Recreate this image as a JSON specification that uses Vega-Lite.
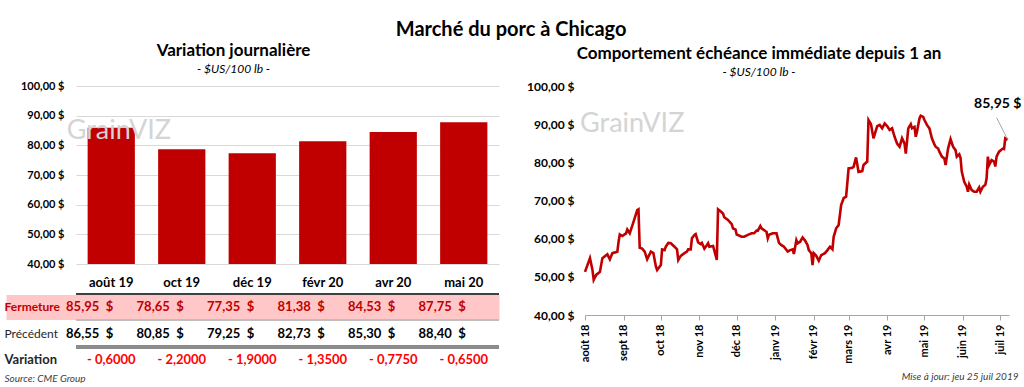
{
  "$schema": "https://vega.github.io/schema/vega-lite/v6.json",
  "padding": {"left": 0, "top": 20, "right": 0, "bottom": 0},
  "background": "white",
  "title": {"text": "Marché du porc à Chicago", "fontSize": 20, "font": "Lato", "fontWeight": "bold", "color": "#000000", "anchor": "middle", "offset": 2},
  "config": {
    "font": "Lato",
    "view": {"stroke": null},
    "locale": {
      "number": {"decimal": ",", "thousands": " ", "grouping": [3], "currency": ["", " $"], "minus": "- "},
      "time": {"dateTime": "%A %e %B %Y à %X", "date": "%d/%m/%Y", "time": "%H:%M:%S", "periods": ["AM", "PM"],
        "days": ["dimanche", "lundi", "mardi", "mercredi", "jeudi", "vendredi", "samedi"],
        "shortDays": ["dim", "lun", "mar", "mer", "jeu", "ven", "sam"],
        "months": ["janvier", "février", "mars", "avril", "mai", "juin", "juillet", "août", "septembre", "octobre", "novembre", "décembre"],
        "shortMonths": ["janv", "févr", "mars", "avr", "mai", "juin", "juil", "août", "sept", "oct", "nov", "déc"]}
    },
    "title": {"font": "Lato", "color": "#000000", "subtitleFont": "Lato", "subtitleColor": "#000000"}
  },
  "datasets": {
    "contrats": [
      {"contrat": "août 19", "Fermeture": 85.95, "Précédent": 86.55, "Variation": -0.6},
      {"contrat": "oct 19", "Fermeture": 78.65, "Précédent": 80.85, "Variation": -2.2},
      {"contrat": "déc 19", "Fermeture": 77.35, "Précédent": 79.25, "Variation": -1.9},
      {"contrat": "févr 20", "Fermeture": 81.38, "Précédent": 82.73, "Variation": -1.35},
      {"contrat": "avr 20", "Fermeture": 84.53, "Précédent": 85.30, "Variation": -0.775},
      {"contrat": "mai 20", "Fermeture": 87.75, "Précédent": 88.40, "Variation": -0.65}
    ],
    "porc": [
      {"date": "2018-08-01", "prix": 51.3}, {"date": "2018-08-05", "prix": 54.9}, {"date": "2018-08-07", "prix": 51.8},
      {"date": "2018-08-08", "prix": 49.2}, {"date": "2018-08-10", "prix": 50.5}, {"date": "2018-08-13", "prix": 51.3},
      {"date": "2018-08-15", "prix": 54.9}, {"date": "2018-08-19", "prix": 55.9}, {"date": "2018-08-21", "prix": 54.6},
      {"date": "2018-08-23", "prix": 56.2}, {"date": "2018-08-27", "prix": 56.6}, {"date": "2018-08-28", "prix": 59.2},
      {"date": "2018-08-29", "prix": 61.1}, {"date": "2018-08-31", "prix": 60.7}, {"date": "2018-09-03", "prix": 61.4},
      {"date": "2018-09-04", "prix": 62.4}, {"date": "2018-09-06", "prix": 61.4}, {"date": "2018-09-09", "prix": 64.4},
      {"date": "2018-09-12", "prix": 67.5}, {"date": "2018-09-13", "prix": 67.7}, {"date": "2018-09-14", "prix": 57.6},
      {"date": "2018-09-16", "prix": 57.4}, {"date": "2018-09-18", "prix": 56.6}, {"date": "2018-09-20", "prix": 54.6},
      {"date": "2018-09-21", "prix": 55.3}, {"date": "2018-09-23", "prix": 56.6}, {"date": "2018-09-25", "prix": 56.2},
      {"date": "2018-09-27", "prix": 52.7}, {"date": "2018-09-28", "prix": 51.8}, {"date": "2018-10-01", "prix": 53.1},
      {"date": "2018-10-02", "prix": 57.2}, {"date": "2018-10-04", "prix": 57.0}, {"date": "2018-10-05", "prix": 57.9},
      {"date": "2018-10-07", "prix": 58.9}, {"date": "2018-10-09", "prix": 58.8}, {"date": "2018-10-12", "prix": 57.9},
      {"date": "2018-10-14", "prix": 57.2}, {"date": "2018-10-15", "prix": 54.4}, {"date": "2018-10-17", "prix": 55.5},
      {"date": "2018-10-20", "prix": 56.2}, {"date": "2018-10-22", "prix": 56.6}, {"date": "2018-10-23", "prix": 57.2},
      {"date": "2018-10-25", "prix": 57.2}, {"date": "2018-10-26", "prix": 60.1}, {"date": "2018-10-28", "prix": 61.0},
      {"date": "2018-10-29", "prix": 61.2}, {"date": "2018-10-31", "prix": 59.0}, {"date": "2018-11-02", "prix": 58.6},
      {"date": "2018-11-03", "prix": 58.9}, {"date": "2018-11-05", "prix": 57.4}, {"date": "2018-11-07", "prix": 58.3},
      {"date": "2018-11-08", "prix": 58.8}, {"date": "2018-11-09", "prix": 57.9}, {"date": "2018-11-12", "prix": 58.1},
      {"date": "2018-11-14", "prix": 55.7}, {"date": "2018-11-15", "prix": 54.4}, {"date": "2018-11-16", "prix": 67.7},
      {"date": "2018-11-18", "prix": 67.2}, {"date": "2018-11-20", "prix": 66.6}, {"date": "2018-11-21", "prix": 65.6},
      {"date": "2018-11-24", "prix": 64.9}, {"date": "2018-11-27", "prix": 63.8}, {"date": "2018-11-28", "prix": 62.7},
      {"date": "2018-11-30", "prix": 62.4}, {"date": "2018-12-01", "prix": 61.1}, {"date": "2018-12-05", "prix": 60.5},
      {"date": "2018-12-07", "prix": 60.5}, {"date": "2018-12-10", "prix": 61.0}, {"date": "2018-12-13", "prix": 61.4},
      {"date": "2018-12-15", "prix": 61.4}, {"date": "2018-12-17", "prix": 62.1}, {"date": "2018-12-18", "prix": 62.1},
      {"date": "2018-12-20", "prix": 63.3}, {"date": "2018-12-21", "prix": 62.7}, {"date": "2018-12-24", "prix": 62.0},
      {"date": "2018-12-25", "prix": 61.8}, {"date": "2018-12-26", "prix": 60.1}, {"date": "2018-12-27", "prix": 61.0},
      {"date": "2018-12-30", "prix": 61.4}, {"date": "2019-01-02", "prix": 61.4}, {"date": "2019-01-04", "prix": 58.9},
      {"date": "2019-01-06", "prix": 58.3}, {"date": "2019-01-08", "prix": 57.9}, {"date": "2019-01-11", "prix": 56.6},
      {"date": "2019-01-13", "prix": 57.0}, {"date": "2019-01-15", "prix": 57.2}, {"date": "2019-01-16", "prix": 56.0},
      {"date": "2019-01-18", "prix": 59.6}, {"date": "2019-01-19", "prix": 58.8}, {"date": "2019-01-21", "prix": 59.2},
      {"date": "2019-01-23", "prix": 60.3}, {"date": "2019-01-25", "prix": 59.5}, {"date": "2019-01-27", "prix": 58.3},
      {"date": "2019-01-28", "prix": 57.0}, {"date": "2019-01-30", "prix": 56.2}, {"date": "2019-01-31", "prix": 53.1},
      {"date": "2019-02-01", "prix": 56.2}, {"date": "2019-02-03", "prix": 55.5}, {"date": "2019-02-05", "prix": 54.2},
      {"date": "2019-02-07", "prix": 55.7}, {"date": "2019-02-10", "prix": 56.2}, {"date": "2019-02-12", "prix": 57.0},
      {"date": "2019-02-14", "prix": 57.9}, {"date": "2019-02-16", "prix": 57.2}, {"date": "2019-02-17", "prix": 60.5},
      {"date": "2019-02-19", "prix": 62.7}, {"date": "2019-02-21", "prix": 63.6}, {"date": "2019-02-23", "prix": 68.8},
      {"date": "2019-02-25", "prix": 70.6}, {"date": "2019-02-27", "prix": 71.0}, {"date": "2019-03-01", "prix": 78.4},
      {"date": "2019-03-04", "prix": 78.6}, {"date": "2019-03-05", "prix": 78.8}, {"date": "2019-03-07", "prix": 81.3},
      {"date": "2019-03-09", "prix": 77.5}, {"date": "2019-03-12", "prix": 77.7}, {"date": "2019-03-13", "prix": 79.3},
      {"date": "2019-03-16", "prix": 80.2}, {"date": "2019-03-17", "prix": 91.1}, {"date": "2019-03-19", "prix": 90.0},
      {"date": "2019-03-21", "prix": 86.3}, {"date": "2019-03-24", "prix": 89.5}, {"date": "2019-03-26", "prix": 89.8},
      {"date": "2019-03-28", "prix": 88.9}, {"date": "2019-03-30", "prix": 90.2}, {"date": "2019-04-01", "prix": 89.5},
      {"date": "2019-04-03", "prix": 88.5}, {"date": "2019-04-05", "prix": 88.9}, {"date": "2019-04-07", "prix": 86.7},
      {"date": "2019-04-09", "prix": 84.9}, {"date": "2019-04-11", "prix": 84.1}, {"date": "2019-04-13", "prix": 86.3},
      {"date": "2019-04-15", "prix": 84.9}, {"date": "2019-04-16", "prix": 82.3}, {"date": "2019-04-18", "prix": 88.9},
      {"date": "2019-04-20", "prix": 90.0}, {"date": "2019-04-21", "prix": 88.9}, {"date": "2019-04-23", "prix": 89.3},
      {"date": "2019-04-24", "prix": 86.7}, {"date": "2019-04-25", "prix": 88.0}, {"date": "2019-04-27", "prix": 91.5},
      {"date": "2019-04-28", "prix": 92.2}, {"date": "2019-04-30", "prix": 91.9}, {"date": "2019-05-01", "prix": 91.1},
      {"date": "2019-05-03", "prix": 89.8}, {"date": "2019-05-05", "prix": 88.9}, {"date": "2019-05-07", "prix": 86.3},
      {"date": "2019-05-09", "prix": 84.7}, {"date": "2019-05-10", "prix": 84.1}, {"date": "2019-05-12", "prix": 83.6},
      {"date": "2019-05-13", "prix": 82.8}, {"date": "2019-05-15", "prix": 81.5}, {"date": "2019-05-17", "prix": 81.0},
      {"date": "2019-05-18", "prix": 79.3}, {"date": "2019-05-20", "prix": 83.6}, {"date": "2019-05-22", "prix": 86.1},
      {"date": "2019-05-24", "prix": 84.1}, {"date": "2019-05-26", "prix": 83.2}, {"date": "2019-05-27", "prix": 81.5},
      {"date": "2019-05-29", "prix": 82.1}, {"date": "2019-05-30", "prix": 81.2}, {"date": "2019-05-31", "prix": 77.6},
      {"date": "2019-06-02", "prix": 74.9}, {"date": "2019-06-04", "prix": 73.6}, {"date": "2019-06-05", "prix": 72.3},
      {"date": "2019-06-06", "prix": 74.2}, {"date": "2019-06-08", "prix": 72.7}, {"date": "2019-06-10", "prix": 72.3},
      {"date": "2019-06-12", "prix": 72.3}, {"date": "2019-06-14", "prix": 73.4}, {"date": "2019-06-15", "prix": 72.3},
      {"date": "2019-06-17", "prix": 73.6}, {"date": "2019-06-19", "prix": 74.1}, {"date": "2019-06-20", "prix": 75.8},
      {"date": "2019-06-21", "prix": 81.5}, {"date": "2019-06-22", "prix": 79.3}, {"date": "2019-06-24", "prix": 80.6},
      {"date": "2019-06-26", "prix": 80.2}, {"date": "2019-06-27", "prix": 78.9}, {"date": "2019-06-28", "prix": 81.5},
      {"date": "2019-06-30", "prix": 82.8}, {"date": "2019-07-03", "prix": 83.6}, {"date": "2019-07-04", "prix": 83.5},
      {"date": "2019-07-05", "prix": 86.3}, {"date": "2019-07-07", "prix": 85.95}
    ]
  },
  "spacing": 25,
  "hconcat": [
    {
      "spacing": 0,
      "vconcat": [
        {
          "width": 423,
          "height": 178,
          "title": {"text": "Variation journalière", "subtitle": "- $US/100 lb -", "fontSize": 17, "fontWeight": "bold", "subtitleFontSize": 12, "subtitleFontStyle": "italic", "subtitlePadding": 4, "anchor": "middle", "dx": -54, "offset": 4},
          "data": {"name": "contrats"},
          "layer": [
            {
              "mark": {"type": "bar", "color": "#c00000"},
              "encoding": {
                "x": {"field": "contrat", "type": "nominal", "sort": null,
                  "scale": {"paddingInner": 0.33, "paddingOuter": 0.165},
                  "axis": {"title": null, "orient": "bottom", "domain": false, "ticks": false, "labelAngle": 0, "labelFontSize": 13, "labelFontWeight": "bold", "labelColor": "#000000", "labelPadding": 12}},
                "y": {"field": "Fermeture", "type": "quantitative", "scale": {"domain": [40, 100], "zero": false, "nice": false},
                  "axis": {"title": null, "values": [40, 50, 60, 70, 80, 90, 100], "format": "$.2f", "labelFontWeight": "bold", "labelFontSize": 11, "labelColor": "#000000", "domain": false, "ticks": false, "labelPadding": 12, "gridColor": "#d9d9d9", "labelOverlap": false}},
                "y2": {"datum": 40}
              }
            },
            {
              "data": {"values": [{}]},
              "mark": {"type": "text", "fontSize": 27, "color": "#d4d4d4", "align": "left", "baseline": "alphabetic", "dx": -21},
              "encoding": {
                "x": {"datum": "août 19", "bandPosition": 0},
                "y": {"datum": 82, "type": "quantitative", "scale": {"domain": [40, 100], "zero": false, "nice": false},
                  "axis": {"title": null, "values": [40, 50, 60, 70, 80, 90, 100], "format": "$.2f", "labelFontWeight": "bold", "labelFontSize": 11, "labelColor": "#000000", "domain": false, "ticks": false, "labelPadding": 12, "gridColor": "#d9d9d9", "labelOverlap": false}},
                "text": {"value": "GrainVIZ"}
              }
            }
          ]
        },
        {
          "width": 423,
          "height": 79,
          "data": {"name": "contrats"},
          "transform": [{"fold": ["Fermeture", "Précédent", "Variation"], "as": ["ligne", "valeur"]}],
          "encoding": {
            "y": {"field": "ligne", "type": "nominal", "sort": ["Fermeture", "Précédent", "Variation"],
              "scale": {"domain": ["Fermeture", "Précédent", "Variation"], "paddingInner": 0, "paddingOuter": 0},
              "axis": {"title": null, "domain": false, "labelAlign": "left", "labelBaseline": "middle", "labelPadding": 14.5,
                "ticks": true, "tickSize": 57.5, "tickColor": "#ffc7c7", "tickCap": "square",
                "tickWidth": {"condition": {"test": "datum.value === 'Fermeture'", "value": 25}, "value": 0},
                "grid": true, "gridColor": "#ffc7c7",
                "gridWidth": {"condition": {"test": "datum.value === 'Fermeture'", "value": 25}, "value": 0},
                "labelFontSize": {"condition": {"test": "datum.value === 'Variation'", "value": 13}, "value": 12},
                "labelColor": {"condition": {"test": "datum.value === 'Fermeture'", "value": "#c00000"}, "value": "#262626"},
                "labelFontWeight": {"condition": {"test": "datum.value === 'Précédent'", "value": "normal"}, "value": "bold"}}
            }
          },
          "layer": [
            {
              "transform": [{"filter": "datum.ligne !== 'Variation'"}],
              "mark": {"type": "text", "align": "right", "baseline": "middle", "dx": -12, "fontSize": 13, "fontWeight": "bold"},
              "encoding": {
                "x": {"field": "contrat", "type": "nominal", "sort": null, "bandPosition": 1,
                  "scale": {"paddingInner": 0.33, "paddingOuter": 0.165},
                  "axis": {"orient": "bottom", "labels": false, "ticks": false, "domain": false, "title": "Source: CME Group", "titleAnchor": "start", "titleAlign": "left", "titleX": -72, "titleFontSize": 10, "titleFontStyle": "italic", "titleFontWeight": "normal", "titleColor": "#404040", "titlePadding": 0}},
                "text": {"field": "valeur", "type": "quantitative", "format": ".2f"},
                "color": {"condition": {"test": "datum.ligne === 'Fermeture'", "value": "#c00000"}, "value": "#000000"}
              }
            },
            {
              "transform": [{"filter": "datum.ligne !== 'Variation'"}],
              "mark": {"type": "text", "align": "right", "baseline": "middle", "dx": 2, "fontSize": 13, "fontWeight": "bold"},
              "encoding": {
                "x": {"field": "contrat", "type": "nominal", "sort": null, "bandPosition": 1},
                "text": {"value": "$"},
                "color": {"condition": {"test": "datum.ligne === 'Fermeture'", "value": "#c00000"}, "value": "#000000"}
              }
            },
            {
              "transform": [{"filter": "datum.ligne === 'Variation'"}],
              "mark": {"type": "text", "align": "center", "baseline": "middle", "fontSize": 13, "fontWeight": "bold", "color": "#ff0000"},
              "encoding": {
                "x": {"field": "contrat", "type": "nominal", "sort": null},
                "text": {"field": "valeur", "type": "quantitative", "format": ".4f"}
              }
            },
            {
              "mark": {"type": "rule", "color": "#404040", "strokeWidth": 1.5},
              "encoding": {"y": {"datum": "Fermeture", "bandPosition": 0}}
            },
            {
              "mark": {"type": "rule", "color": "#bfbfbf", "strokeWidth": 1},
              "encoding": {"y": {"datum": "Précédent", "bandPosition": 0}}
            },
            {
              "mark": {"type": "rule", "color": "#8c8c8c", "strokeWidth": 3},
              "encoding": {"y": {"datum": "Variation", "bandPosition": 0}}
            }
          ]
        }
      ]
    },
    {
      "vconcat": [
        {
          "width": 424,
          "height": 229,
          "title": {"text": "Comportement échéance immédiate depuis 1 an", "subtitle": "- $US/100 lb -", "fontSize": 17, "fontWeight": "bold", "subtitleFontSize": 12, "subtitleFontStyle": "italic", "subtitlePadding": 4, "anchor": "middle", "dx": -38, "offset": 1},
          "data": {"name": "porc"},
          "layer": [
            {
              "data": {"values": [{}]},
              "mark": {"type": "text", "fontSize": 27, "color": "#d4d4d4", "align": "left", "baseline": "alphabetic"},
              "encoding": {
                "x": {"datum": {"year": 2018, "month": 7, "date": 28}, "type": "temporal",
                  "scale": {"domain": [{"year": 2018, "month": 8, "date": 1}, {"year": 2019, "month": 7, "date": 8}]}},
                "y": {"datum": 88, "type": "quantitative", "scale": {"domain": [40, 100], "zero": false, "nice": false},
                  "axis": {"title": null, "values": [40, 50, 60, 70, 80, 90, 100], "format": "$.2f", "labelFontWeight": "bold", "labelFontSize": 12, "labelColor": "#000000", "domain": false, "ticks": false, "labelPadding": 11, "gridColor": "#d9d9d9", "labelOverlap": false}},
                "text": {"value": "GrainVIZ"}
              }
            },
            {
              "mark": {"type": "line", "color": "#c00000", "strokeWidth": 2.6},
              "encoding": {
                "x": {"field": "date", "type": "temporal",
                  "scale": {"domain": [{"year": 2018, "month": 8, "date": 1}, {"year": 2019, "month": 7, "date": 8}]},
                  "axis": {"title": "Mise à jour: jeu 25 juil 2019", "titleAnchor": "end", "titleAlign": "right", "titleX": 433, "titleFontSize": 10, "titleFontStyle": "italic", "titleFontWeight": "normal", "titleColor": "#404040", "titlePadding": 8,
                    "format": "%b %y", "labelAngle": -90, "labelFontWeight": "bold", "labelFontSize": 11, "labelColor": "#000000", "labelPadding": 4,
                    "tickCount": {"interval": "month", "step": 1}, "tickSize": 5, "tickColor": "#a6a6a6", "domainColor": "#a6a6a6", "grid": false, "labelFlush": false, "labelOverlap": false}},
                "y": {"field": "prix", "type": "quantitative", "scale": {"domain": [40, 100], "zero": false, "nice": false},
                  "axis": {"title": null, "values": [40, 50, 60, 70, 80, 90, 100], "format": "$.2f", "labelFontWeight": "bold", "labelFontSize": 12, "labelColor": "#000000", "domain": false, "ticks": false, "labelPadding": 11, "gridColor": "#d9d9d9", "labelOverlap": false}}
              }
            },
            {
              "transform": [{"filter": "datum.prix === 85.95"}],
              "mark": {"type": "rule", "color": "#a6a6a6", "strokeWidth": 1},
              "encoding": {
                "x": {"field": "date", "type": "temporal"},
                "y": {"field": "prix", "type": "quantitative", "scale": {"domain": [40, 100], "zero": false, "nice": false},
                  "axis": {"title": null, "values": [40, 50, 60, 70, 80, 90, 100], "format": "$.2f", "labelFontWeight": "bold", "labelFontSize": 12, "labelColor": "#000000", "domain": false, "ticks": false, "labelPadding": 11, "gridColor": "#d9d9d9", "labelOverlap": false}},
                "x2": {"datum": {"year": 2019, "month": 6, "date": 28}},
                "y2": {"datum": 91.7}
              }
            },
            {
              "transform": [{"filter": "datum.prix === 85.95"}],
              "mark": {"type": "text", "fontSize": 14, "fontWeight": "bold", "align": "center", "baseline": "bottom", "dx": -10, "dy": -29, "color": "#000000"},
              "encoding": {
                "x": {"field": "date", "type": "temporal"},
                "y": {"field": "prix", "type": "quantitative", "scale": {"domain": [40, 100], "zero": false, "nice": false},
                  "axis": {"title": null, "values": [40, 50, 60, 70, 80, 90, 100], "format": "$.2f", "labelFontWeight": "bold", "labelFontSize": 12, "labelColor": "#000000", "domain": false, "ticks": false, "labelPadding": 11, "gridColor": "#d9d9d9", "labelOverlap": false}},
                "text": {"field": "prix", "type": "quantitative", "format": "$.2f"}
              }
            }
          ]
        }
      ]
    }
  ]
}
